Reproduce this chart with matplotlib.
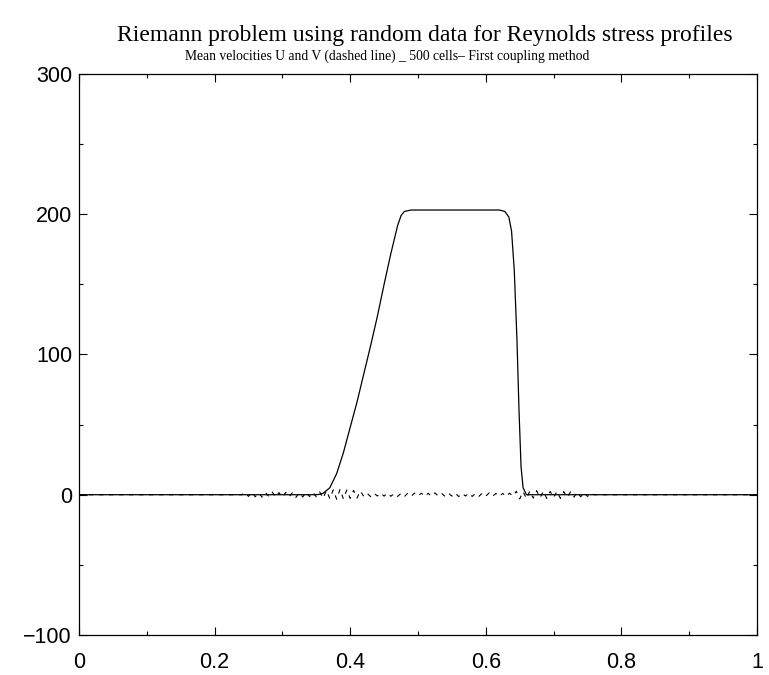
import numpy as np
import matplotlib
matplotlib.use("Agg")
import matplotlib.pyplot as plt
from matplotlib.ticker import MultipleLocator

# U profile
x_u = [0.0, 0.35, 0.355, 0.36, 0.37, 0.38, 0.39, 0.40, 0.41, 0.42, 0.43, 0.44,
       0.45, 0.46, 0.47, 0.475, 0.48, 0.49, 0.62, 0.628, 0.634, 0.638, 0.642,
       0.646, 0.649, 0.652, 0.655, 0.66, 1.0]
u = [0, 0, 0.3, 1, 5, 15, 30, 48, 66, 86, 106, 127,
     150, 172, 192, 199, 202, 203, 203, 202, 198, 188, 160,
     110, 60, 20, 5, 0, 0]

# V profile (dashed), small wiggles around zero between 0.24 and 0.76
x_v_wig = np.round(np.arange(0.24, 0.7601, 0.005), 3)
v_wig = [0, 1.5, -1.2, 1.8, -1.5, 1.4, -1.7, 1.6, -1.3, 1.9, -1.6, 1.5,
         -1.8, 1.7, -1.4, 1.6, -1.9, 1.5, -1.6, 1.8, -1.3, 1.7, -1.5, 2.0,
         -2.5, 3.0, -2.8, 3.5, -3.2, 3.8, -3.0, 3.4, -2.6, 3.1, -2.4, 2.7,
         -1.2, 1.0, -1.3, 1.1, -0.9, 1.2, -1.0, 1.3, -1.1, 0.9, -1.2, 1.0,
         -1.3, 1.1, -1.0, 1.2, -0.9, 1.1, -1.2, 1.0, -1.1, 1.3, -1.0, 0.9,
         -1.2, 1.1, -1.0, 1.2, -1.3, 1.0, -0.9, 1.1, -1.2, 1.0, -1.1, 1.2,
         -1.0, 1.3, -1.1, 0.9, -1.2, 1.0, -1.3, 1.1, -1.0,
         2.5, -3.0, 2.2, -2.8, 2.6, -2.4, 2.9, -2.1, 2.5, -2.7, 2.3, -2.0,
         2.4, -2.6, 2.2, -1.9, 2.1, -1.7, 1.8, -1.5, 1.6, -1.2, 1.0, 0]
x_v = [0.0] + list(x_v_wig) + [1.0]
v = [0] + v_wig + [0]

title = "Riemann problem using random data for Reynolds stress profiles"
subtitle = "Mean velocities U and V (dashed line) _ 500 cells\u2013 First coupling method"

fig = plt.figure(figsize=(7.69, 6.75), dpi=100)
ax = fig.add_axes([0.1027, 0.0593, 0.8817, 0.8311])

ax.plot(x_u, u, color="black", lw=0.9)
ax.plot(x_v, v, color="black", lw=0.8, dashes=(4, 5))

ax.set_xlim(0, 1)
ax.set_ylim(-100, 300)
ax.xaxis.set_minor_locator(MultipleLocator(0.1))
ax.yaxis.set_minor_locator(MultipleLocator(50))
ax.set_xticks([0, 0.2, 0.4, 0.6, 0.8, 1.0])
ax.set_xticklabels(["0", "0.2", "0.4", "0.6", "0.8", "1"])
ax.set_yticks([-100, 0, 100, 200, 300])
ax.set_yticklabels(["\u2212100", "0", "100", "200", "300"])

ax.tick_params(which="both", direction="in", top=True, right=True, width=0.8)
ax.tick_params(which="major", length=6, labelsize=15.5)
ax.tick_params(which="minor", length=3)
ax.tick_params(axis="x", which="major", pad=12)
ax.tick_params(axis="y", which="major", pad=5)
for lab in ax.get_xticklabels() + ax.get_yticklabels():
    lab.set_family("Liberation Sans")
for s in ax.spines.values():
    s.set_linewidth(0.9)

fig.text(425 / 769, 1 - 35 / 675, title, ha="center", va="center",
         family="Liberation Serif", fontsize=17)
fig.text(387 / 769, 1 - 56 / 675, subtitle, ha="center", va="center",
         family="Liberation Serif", fontsize=9.8)

fig.savefig("out.png", dpi=100)
